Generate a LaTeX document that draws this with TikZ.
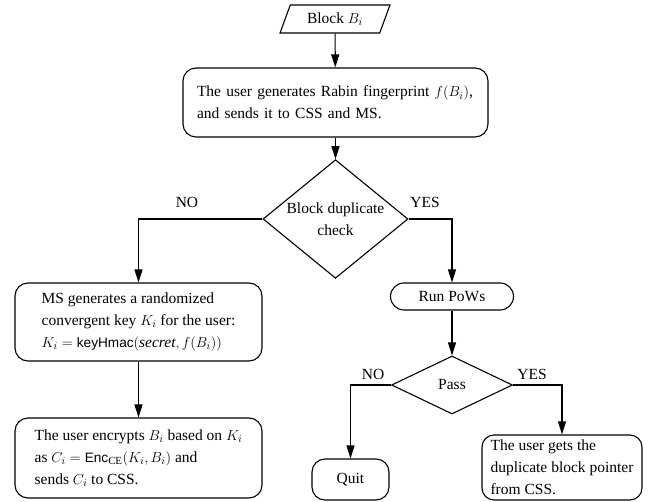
\documentclass[tikz,border=0pt]{standalone}
\usepackage{amsmath}
\usepackage{fontspec}
\setmainfont{Liberation Serif}
\setsansfont{Liberation Sans}[Scale=0.88]
\usepackage{tikz}
\usetikzlibrary{positioning,shapes.geometric,arrows.meta}

\begin{document}
\begin{tikzpicture}[x=1pt, y=-1pt, line width=1.1pt,
    every node/.style={font=\fontsize{15.5}{22}\selectfont, line width=1.1pt},
    proc/.style={draw, rectangle, rounded corners=13pt, align=left, inner sep=4pt},
    decide/.style={draw, diamond, inner sep=-3pt, align=center},
    io/.style={draw, trapezium, trapezium left angle=70, trapezium right angle=110,
        trapezium stretches=true},
    arr/.style={-{Triangle[length=13pt,width=8pt]}}]
    \useasboundingbox (0,0) rectangle (648,502);

    % Input block
    \node[io, minimum width=110pt, minimum height=28pt] (blk) at (335,19) {Block $B_i$};

    % Fingerprint
    \node[proc, text width=277pt, minimum height=69pt, inner xsep=14pt] (fp) at (335.5,102.5)
        {The user generates Rabin fingerprint $f(B_i)$,\\ and sends it to CSS and MS.};

    % Duplicate check
    \node[decide, minimum width=145pt, minimum height=84pt] (dup) at (335.5,219)
        {Block duplicate\\ check};

    % NO branch
    \node[proc, minimum width=247pt, minimum height=78pt] (ms) at (138.5,322)
        {MS generates a randomized\\ convergent key $K_i$ for the user:\\
         $K_i = \textsf{keyHmac}(\textit{secret}, f(B_i))$};
    \node[proc, minimum width=247pt, minimum height=80pt] (enc) at (138.5,458)
        {The user encrypts $B_i$ based on $K_i$\\
         as $C_i = \textsf{Enc}_{\mathrm{CE}}(K_i, B_i)$ and\\ sends $C_i$ to CSS.};

    % YES branch
    \node[proc, rounded corners=13.5pt, minimum width=123pt, minimum height=27pt,
        align=center] (pow) at (452,296.5) {Run PoWs};
    \node[decide, minimum width=121pt, minimum height=58pt] (pass) at (452,385) {Pass};
    \node[proc, minimum width=77pt, minimum height=41pt, align=center] (quit) at (350.5,479.5) {Quit};
    \node[proc, rounded corners=12pt, minimum width=160pt, minimum height=65pt,
        inner xsep=3pt] (gets) at (562,467.5)
        {The user gets the\\ duplicate block pointer\\ from CSS.};

    % Labels
    \node (no1) at (187,202) {NO};
    \node (yes1) at (425,202) {YES};
    \node (no2) at (373,374) {NO};
    \node (yes2) at (532,374) {YES};

    % Connections
    \draw[arr] (blk) -- (fp);
    \draw[arr] (fp) -- (dup);
    \draw[arr] (dup.west) -| (ms.north);
    \draw[arr] (dup.east) -| (pow.north);
    \draw[arr] (pass.west) -| (quit.north);
    \draw[arr] (pass.east) -| (gets.north);
    \foreach \a/\b in {ms/enc, pow/pass}
        \draw[arr] (\a) -- (\b);
\end{tikzpicture}
\end{document}
